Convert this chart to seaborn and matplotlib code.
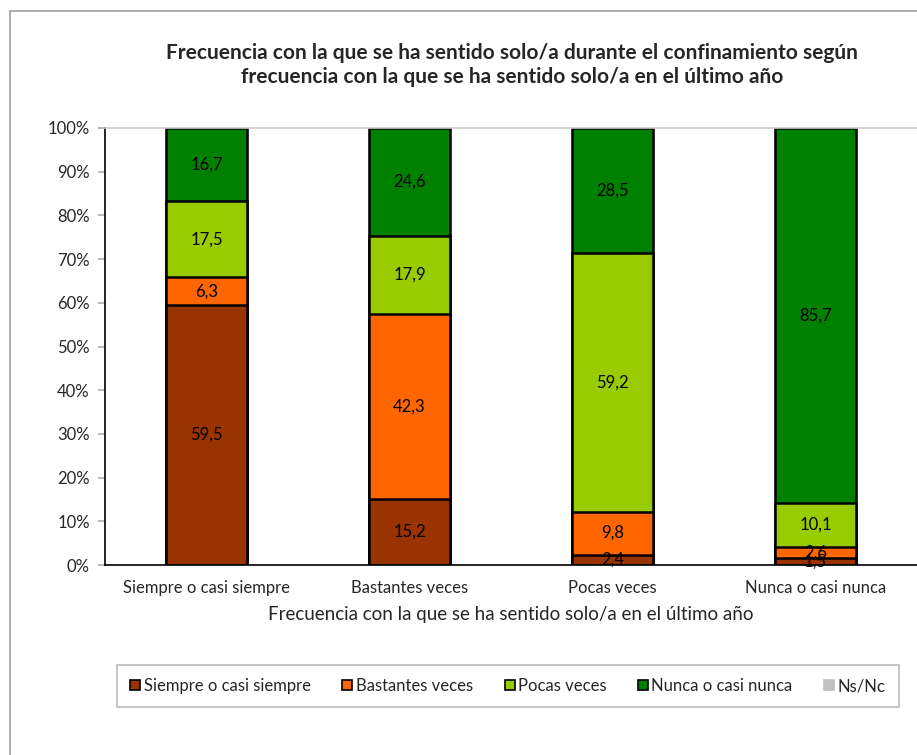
import numpy as np
import pandas as pd
import matplotlib
matplotlib.use("Agg")
import matplotlib.pyplot as plt
import matplotlib.patches as mpatches
import seaborn as sns

# categories on the x axis (frequency in the last year)
categories = ["Siempre o casi siempre", "Bastantes veces", "Pocas veces", "Nunca o casi nunca"]

# stacked series (frequency during the lockdown), percentages
series_names = ["Siempre o casi siempre", "Bastantes veces", "Pocas veces", "Nunca o casi nunca", "Ns/Nc"]
siempre = [59.5, 15.2, 2.4, 1.5]
bastantes = [6.3, 42.3, 9.8, 2.6]
pocas = [17.5, 17.9, 59.2, 10.1]
nunca = [16.7, 24.6, 28.5, 85.7]
nsnc = [0.0, 0.0, 0.1, 0.1]

colors = ["#993300", "#FF6600", "#99CC00", "#008000", "#C0C0C0"]

title = ("Frecuencia con la que se ha sentido solo/a durante el confinamiento según\n"
         "frecuencia con la que se ha sentido solo/a en el último año")
xlabel = "Frecuencia con la que se ha sentido solo/a en el último año"

sns.set_theme(style="white")
plt.rcParams["font.family"] = ["Lato", "DejaVu Sans"]

values = [siempre, bastantes, pocas, nunca, nsnc]
df = pd.DataFrame({name: v for name, v in zip(series_names, values)}, index=categories)
cum = df.cumsum(axis=1)

fig = plt.figure(figsize=(9.17, 7.55), dpi=100)
ax = fig.add_axes([105 / 917, 1 - 565 / 755, 812 / 917, (565 - 128) / 755])

# draw cumulative bars from top series down so each overlays the one above
for i in range(len(series_names) - 1, -1, -1):
    name = series_names[i]
    edge = "#C0C0C0" if name == "Ns/Nc" else "black"
    sns.barplot(x=categories, y=cum[name].values, color=colors[i], edgecolor=edge,
                linewidth=1.8, width=0.4, saturation=1, ax=ax)

# segment labels
for i, name in enumerate(series_names[:-1]):
    for j, cat in enumerate(categories):
        v = df.loc[cat, name]
        mid = cum.loc[cat, name] - v / 2
        ax.text(j, mid, f"{v:.1f}".replace(".", ","), ha="center", va="center",
                fontsize=12, color="black")

ax.set_ylim(0, 100)
ax.set_xlim(-0.5, 3.5)
ax.set_yticks(np.arange(0, 101, 10))
ax.set_yticklabels([f"{t}%" for t in range(0, 101, 10)], fontsize=12)
ax.set_xticks(range(len(categories)))
ax.set_xticklabels(categories, fontsize=12)
ax.set_xticks([0.5, 1.5, 2.5], minor=True)
ax.tick_params(axis="x", which="major", length=0, pad=11)
ax.tick_params(axis="x", which="minor", length=5, color="#b0b0b0", width=1)
ax.tick_params(axis="y", length=5, color="#b0b0b0", left=True, pad=6)
ax.set_xlabel(xlabel, fontsize=13.5, labelpad=7)
ax.set_ylabel("")

for side in ["left", "bottom"]:
    ax.spines[side].set_color("black")
    ax.spines[side].set_linewidth(1.2)
ax.spines["right"].set_visible(False)
ax.spines["top"].set_color("#cccccc")
ax.spines["top"].set_linewidth(1.2)

fig.text(512 / 917, 1 - 65 / 755, title, ha="center", va="center", fontsize=15,
         fontweight="bold", linespacing=1.25)

handles = []
for i, name in enumerate(series_names):
    edge = "#C0C0C0" if name == "Ns/Nc" else "black"
    handles.append(mpatches.Patch(facecolor=colors[i], edgecolor=edge, linewidth=1.2, label=name))
leg = fig.legend(handles=handles, loc="center", ncol=5,
                 bbox_to_anchor=(508 / 917, 1 - 686 / 755),
                 fontsize=12, frameon=True, fancybox=False,
                 handlelength=0.6, handleheight=0.6, handletextpad=0.2,
                 columnspacing=1.9, borderpad=0.8, borderaxespad=0)
leg.get_frame().set_edgecolor("#aaaaaa")
leg.get_frame().set_linewidth(1.2)

# outer chart-area border (top and left edges visible)
fig.patches.append(mpatches.Rectangle((10 / 917, -0.1), 1.2, 1 - 11 / 755 + 0.1,
                                      fill=False, edgecolor="#a0a0a0", linewidth=1.2,
                                      transform=fig.transFigure, figure=fig))

fig.savefig("out.png", dpi=100)
